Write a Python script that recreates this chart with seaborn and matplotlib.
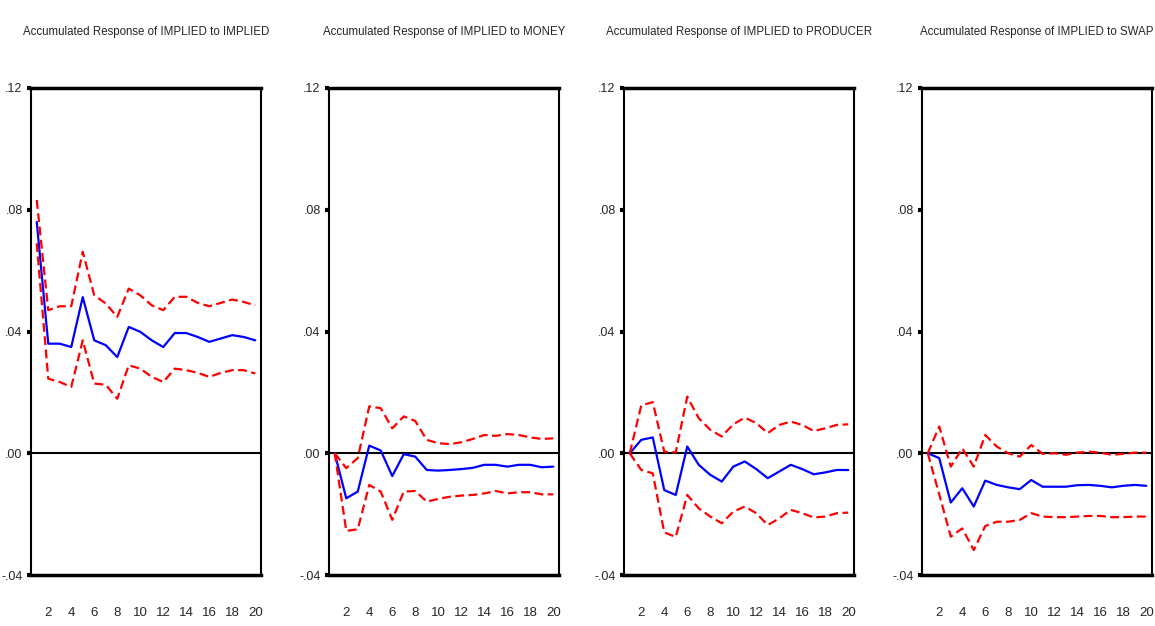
import matplotlib
matplotlib.use("Agg")
import matplotlib.pyplot as plt
import numpy as np
import pandas as pd
import seaborn as sns

periods = list(range(1, 21))
shocks = ["IMPLIED", "MONEY", "PRODUCER", "SWAP"]

# accumulated response (blue) and +/- 2 S.E. bands (red)
resp_implied = [0.0760, 0.0360, 0.0360, 0.0349, 0.0513, 0.0371, 0.0355, 0.0316, 0.0415, 0.0399,
                0.0371, 0.0349, 0.0395, 0.0395, 0.0382, 0.0366, 0.0377, 0.0388, 0.0382, 0.0371]
upper_implied = [0.0832, 0.0470, 0.0483, 0.0483, 0.0662, 0.0519, 0.0492, 0.0448, 0.0541, 0.0519,
                 0.0486, 0.0470, 0.0514, 0.0514, 0.0494, 0.0483, 0.0494, 0.0505, 0.0497, 0.0486]
lower_implied = [0.0690, 0.0245, 0.0234, 0.0218, 0.0371, 0.0229, 0.0225, 0.0179, 0.0289, 0.0278,
                 0.0251, 0.0234, 0.0278, 0.0273, 0.0264, 0.0251, 0.0264, 0.0273, 0.0273, 0.0262]

resp_money = [0.0, -0.0148, -0.0126, 0.0025, 0.0009, -0.0075, -0.0003, -0.0011, -0.0055, -0.0057,
              -0.0055, -0.0052, -0.0048, -0.0038, -0.0038, -0.0044, -0.0038, -0.0038, -0.0046, -0.0044]
upper_money = [0.0, -0.0049, -0.0016, 0.0154, 0.0148, 0.0082, 0.0121, 0.0106, 0.0044, 0.0033,
               0.0030, 0.0036, 0.0047, 0.0060, 0.0057, 0.0063, 0.0060, 0.0052, 0.0047, 0.0049]
lower_money = [0.0, -0.0255, -0.0250, -0.0104, -0.0126, -0.0219, -0.0126, -0.0124, -0.0159, -0.0150,
               -0.0143, -0.0139, -0.0137, -0.0132, -0.0124, -0.0132, -0.0128, -0.0128, -0.0135, -0.0135]

resp_producer = [0.0, 0.0044, 0.0052, -0.0121, -0.0137, 0.0022, -0.0038, -0.0071, -0.0093, -0.0044,
                 -0.0027, -0.0052, -0.0082, -0.0060, -0.0038, -0.0052, -0.0069, -0.0063, -0.0055, -0.0055]
upper_producer = [0.0, 0.0157, 0.0168, 0.0005, 0.0003, 0.0186, 0.0115, 0.0077, 0.0055, 0.0095,
                  0.0117, 0.0099, 0.0066, 0.0093, 0.0104, 0.0093, 0.0073, 0.0082, 0.0093, 0.0095]
lower_producer = [0.0, -0.0055, -0.0066, -0.0260, -0.0275, -0.0137, -0.0181, -0.0208, -0.0230, -0.0192,
                  -0.0175, -0.0197, -0.0236, -0.0214, -0.0186, -0.0197, -0.0211, -0.0208, -0.0197, -0.0195]

resp_swap = [0.0, -0.0016, -0.0162, -0.0115, -0.0175, -0.0090, -0.0104, -0.0112, -0.0118, -0.0088,
             -0.0110, -0.0110, -0.0110, -0.0105, -0.0104, -0.0107, -0.0112, -0.0107, -0.0104, -0.0107]
upper_swap = [0.0, 0.0088, -0.0044, 0.0016, -0.0044, 0.0060, 0.0022, 0.0, -0.0011, 0.0027,
              -0.0002, 0.0, -0.0005, 0.0002, 0.0005, 0.0002, -0.0005, -0.0002, 0.0002, 0.0002]
lower_swap = [0.0, -0.0135, -0.0274, -0.0247, -0.0318, -0.0239, -0.0225, -0.0225, -0.0219, -0.0197,
              -0.0208, -0.0210, -0.0210, -0.0208, -0.0206, -0.0206, -0.0210, -0.0210, -0.0208, -0.0208]

ytick_vals = [-0.04, 0.0, 0.04, 0.08, 0.12]
ytick_labels = ["-.04", ".00", ".04", ".08", ".12"]
xtick_labels = [str(p) for p in range(2, 21, 2)]

series = {
    "IMPLIED": (resp_implied, upper_implied, lower_implied),
    "MONEY": (resp_money, upper_money, lower_money),
    "PRODUCER": (resp_producer, upper_producer, lower_producer),
    "SWAP": (resp_swap, upper_swap, lower_swap),
}

rows = []
for shock, (resp, upper, lower) in series.items():
    for band, vals in (("resp", resp), ("upper", upper), ("lower", lower)):
        for p, v in zip(periods, vals):
            rows.append({"shock": shock, "band": band, "period": p, "value": v})
df = pd.DataFrame(rows)

sns.set_style("white")
plt.rcParams["font.family"] = ["Liberation Sans", "DejaVu Sans"]

fig = plt.figure(figsize=(11.55, 6.26), dpi=100)
lefts = [31, 329, 624, 922]
palette = {"resp": "#0000ff", "upper": "#ff0000", "lower": "#ff0000"}
dashes = {"resp": "", "upper": (4, 2), "lower": (4, 2)}

for left, shock in zip(lefts, shocks):
    ax = fig.add_axes([left / 1155, 51 / 626, 230 / 1155, 487 / 626])
    ax.axhline(0, color="black", lw=1.5, zorder=1)
    sns.lineplot(
        data=df[df["shock"] == shock],
        x="period",
        y="value",
        hue="band",
        style="band",
        palette=palette,
        dashes=dashes,
        lw=1.6,
        legend=False,
        ax=ax,
    )
    ax.set_xlim(0.5, 20.5)
    ax.set_ylim(-0.04, 0.12)
    ax.set_xlabel("")
    ax.set_ylabel("")

    # ticks mark period boundaries, labels sit in the middle of each period
    ax.set_xticks(np.arange(0.5, 21, 1))
    ax.set_xticklabels([])
    ax.set_xticks(range(2, 21, 2), minor=True)
    ax.set_xticklabels(xtick_labels, minor=True)
    ax.tick_params(axis="x", which="major", length=13, width=2, direction="out", color="black")
    ax.tick_params(axis="x", which="minor", length=0, pad=23, labelsize=9.5)

    ax.set_yticks(ytick_vals)
    ax.set_yticklabels(ytick_labels)
    ax.tick_params(axis="y", length=3, width=3, pad=3, labelsize=9, left=True, color="black")

    for side in ("top", "bottom"):
        ax.spines[side].set_linewidth(2.5)
    for side in ("left", "right"):
        ax.spines[side].set_linewidth(1.5)
    for sp in ax.spines.values():
        sp.set_color("black")
        sp.set_visible(True)

    ax.set_title(f"Accumulated Response of IMPLIED to {shock}", fontsize=8.3, pad=38)

fig.savefig("out.png", dpi=100)
